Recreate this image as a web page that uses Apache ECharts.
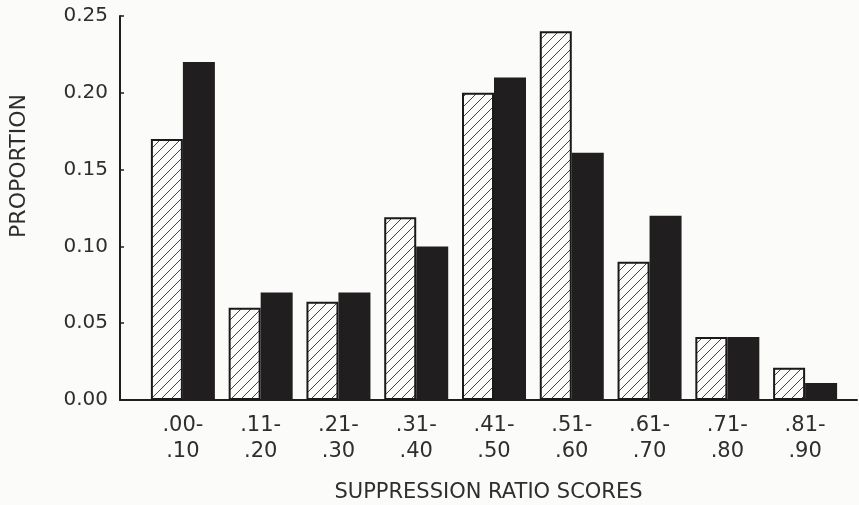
<!DOCTYPE html>
<html>
<head>
<meta charset="utf-8"/>
<title>Suppression ratio scores</title>
<script src="https://cdn.jsdelivr.net/npm/echarts@6/dist/echarts.min.js"></script>
<style>
  html, body { margin: 0; padding: 0; background: #fbfbf9; }
  #main { width: 859px; height: 505px; }
</style>
</head>
<body>
<div id="main"></div>
<script type="text/javascript">
// data
var rangeFrom = ['.00-', '.11-', '.21-', '.31-', '.41-', '.51-', '.61-', '.71-', '.81-'];
var rangeTo   = ['.10', '.20', '.30', '.40', '.50', '.60', '.70', '.80', '.90'];
var hatchedValues = [0.170, 0.060, 0.064, 0.119, 0.200, 0.240, 0.090, 0.041, 0.021];
var solidValues   = [0.220, 0.070, 0.070, 0.100, 0.210, 0.161, 0.120, 0.041, 0.011];
var yTicks = [0, 0.05, 0.10, 0.15, 0.20, 0.25];

var categories = rangeFrom.map(function (a, i) { return a + '\n' + rangeTo[i]; });

// diagonal hatch fill
var hatch = document.createElement('canvas');
hatch.width = 10; hatch.height = 10;
var hc = hatch.getContext('2d');
hc.fillStyle = '#fbfbf9';
hc.fillRect(0, 0, 10, 10);
hc.strokeStyle = '#444';
hc.lineWidth = 1;
hc.beginPath();
hc.moveTo(0, 10); hc.lineTo(10, 0);
hc.moveTo(-1, 1); hc.lineTo(1, -1);
hc.moveTo(9, 11); hc.lineTo(11, 9);
hc.stroke();

var font = 'DejaVu Sans';
var ink = '#2e2e2e';

var myChart = echarts.init(document.getElementById('main'));
var option = {
    backgroundColor: '#fbfbf9',
    animation: false,
    grid: [
        { left: 120, right: 2, top: 16, bottom: 105, outerBoundsMode: 'none' },
        { left: 144, width: 700, top: 16, bottom: 105, outerBoundsMode: 'none' }
    ],
    xAxis: [
        {
            gridIndex: 0, type: 'category', data: [''],
            axisLine: { lineStyle: { color: '#1e1e1e', width: 2 } },
            axisTick: { show: false }, axisLabel: { show: false },
            name: 'SUPPRESSION RATIO SCORES', nameLocation: 'middle', nameGap: 82,
            nameTextStyle: { fontFamily: font, fontSize: 21, color: ink }
        },
        {
            gridIndex: 1, type: 'category', data: categories,
            axisLine: { show: false }, axisTick: { show: false },
            axisLabel: { interval: 0, margin: 13, fontFamily: font, fontSize: 21, lineHeight: 26, color: ink }
        }
    ],
    yAxis: [
        {
            gridIndex: 0, type: 'value', min: yTicks[0], max: yTicks[yTicks.length - 1], interval: 0.05,
            splitLine: { show: false },
            axisLine: { show: true, lineStyle: { color: '#1e1e1e', width: 2 } },
            axisTick: { show: true, inside: true, length: 4, lineStyle: { color: '#1e1e1e', width: 1.5 } },
            axisLabel: { margin: 12, fontFamily: font, fontSize: 20, color: ink,
                formatter: function (v) { return v.toFixed(2); } },
            name: 'PROPORTION', nameLocation: 'middle', nameGap: 90,
            nameTextStyle: { fontFamily: font, fontSize: 22, color: ink, padding: [0, 0, 0, 84] }
        },
        {
            gridIndex: 1, type: 'value', min: yTicks[0], max: yTicks[yTicks.length - 1], show: false
        }
    ],
    series: [
        {
            name: 'hatched', type: 'bar', xAxisIndex: 1, yAxisIndex: 1,
            data: hatchedValues, barWidth: 32, barGap: '0%',
            itemStyle: { color: { image: hatch, repeat: 'repeat' }, borderColor: '#1a1a1a', borderWidth: 2 }
        },
        {
            name: 'solid', type: 'bar', xAxisIndex: 1, yAxisIndex: 1,
            data: solidValues, barWidth: 32, barGap: '0%',
            itemStyle: { color: '#201e1e' }
        }
    ]
};
myChart.setOption(option);
</script>
</body>
</html>
